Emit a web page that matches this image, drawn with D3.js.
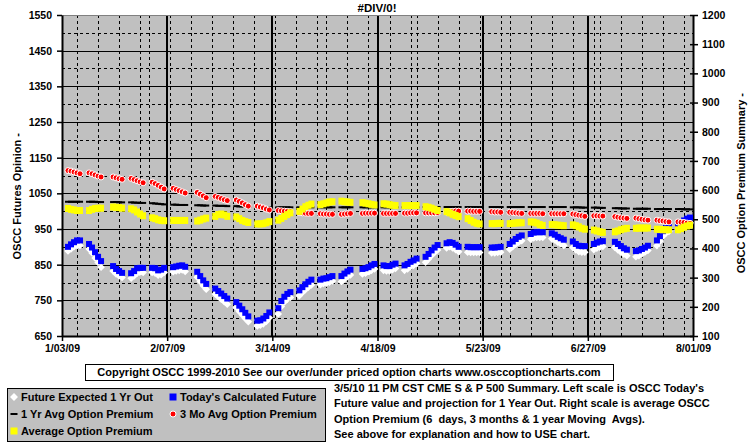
<!DOCTYPE html>
<html><head><meta charset="utf-8">
<script src="https://cdn.jsdelivr.net/npm/d3@7/dist/d3.min.js"></script>
<style>
html,body{margin:0;padding:0;background:#fff;}
svg text{font-family:"Liberation Sans",Arial,sans-serif;font-weight:bold;fill:#000;white-space:pre;}
</style></head>
<body>
<svg id="chart" width="755" height="446"></svg>
<script>
// ---------- DATA ----------
const chartTitle = "#DIV/0!";
const startDay = "2009-01-05", endDay = "2009-08-01";
const holidays = ["2009-01-19","2009-02-16","2009-04-10","2009-05-25","2009-07-03"];
const xTickDates = ["2009-01-03","2009-02-07","2009-03-14","2009-04-18","2009-05-23","2009-06-27","2009-08-01"];
const leftTicks = [650,750,850,950,1050,1150,1250,1350,1450,1550];
const rightTicks = [100,200,300,400,500,600,700,800,900,1000,1100,1200];

// Today's Calculated Future (left scale)
const todaysFuture = [
 900,907,913,918,918, 908,898,885,872,860, 846,838,832,827, 826,832,840,841,841, 841,840,834,836,841,
 843,845,847,848,844, 830,818,806,796, 783,776,769,762,755, 745,735,725,715,705, 693,694,699,706,716,
 728,748,760,768,773, 778,787,795,802,808, 808,811,812,815,818, 818,825,831,836, 838,840,843,848,852,
 848,846,846,850,853, 848,852,858,862,867, 872,880,890,898,905, 910,913,911,906,900, 900,899,899,899,899,
 898,898,899,900, 908,915,922,928,932, 936,940,941,941,941, 938,934,928,924,920, 915,908,903,902,902,
 908,912,915,916, 914,908,902,896,892, 888,890,894,898,903, 918,930,944,952,957, 962,968,974,979,982];
// Future Expected 1 Yr Out (left scale)
const expected1Yr = [
 888,894,900,904,904, 894,883,869,856,843, 832,824,818,814, 812,818,826,828,828, 828,826,820,822,828,
 830,832,834,835,831, 815,803,791,781, 768,760,753,746,739, 730,719,709,699,690, 678,680,684,691,701,
 712,733,745,753,758, 763,772,780,787,793, 794,797,798,801,804, 803,810,816,821, 824,826,829,834,838,
 834,832,832,836,839, 834,838,844,848,853, 857,866,876,884,891, 897,900,897,892,886, 885,884,884,884,884,
 883,883,884,885, 893,900,907,913,917, 921,925,926,926,926, 923,919,913,908,904, 898,891,886,885,885,
 892,896,899,901, 898,891,885,879,875, 872,875,880,885,890, 903,916,930,938,943, 948,954,960,965,968];
// 1 Yr Avg Option Premium (right scale)
const avg1Yr = [
 560,560,560,560,560, 560,560,560,559,559, 559,559,558,558, 558,557,557,556,556, 555,554,553,552,551,
 550,550,549,549,549, 548,548,547,547, 547,546,546,546,545, 545,544,544,543,543, 542,542,541,541,541,
 541,541,541,541,541, 541,541,541,541,541, 541,541,541,541,541, 541,541,541,541, 541,541,541,541,541,
 541,541,541,541,541, 541,541,541,541,541, 542,542,542,542,542, 542,542,542,542,542, 542,542,542,542,542,
 542,542,542,542, 542,542,542,542,542, 542,542,542,542,542, 542,542,542,542,542, 541,541,541,540,540,
 540,540,539,539, 538,538,537,537,537, 536,536,536,536,536, 535,535,535,535,535, 535,535,534,534,534];
// 3 Mo Avg Option Premium (right scale)
const avg3Mo = [
 667,665,662,659,656, 659,656,652,648,645, 645,642,639,637, 640,636,632,628,625, 627,622,616,610,604,
 606,602,598,594,590, 592,586,580,574, 578,575,571,567,564, 566,561,556,550,545, 545,542,539,535,532,
 530,529,528,527,526, 523,522,521,520,520, 519,518,518,517,517, 517,518,519,520, 520,521,521,521,521,
 520,520,520,520,520, 521,521,522,522,522, 522,522,522,522,523, 525,526,527,528,528, 528,528,527,527,527,
 526,525,525,524, 524,523,522,521,520, 520,520,520,520,519, 519,519,519,519,519, 518,516,514,512,510,
 512,512,511,511, 509,507,505,504,503, 504,502,500,498,497, 497,495,494,492,491, 491,490,489,487,486];
// Average Option Premium (right scale)
const avgPremium = [
 537,534,532,530,530, 530,534,537,538,538, 542,541,540,538, 536,532,525,518,512, 505,502,498,496,495,
 496,496,496,496,496, 494,497,501,504, 510,516,518,515,510, 508,502,496,492,489, 484,484,485,488,492,
 497,503,510,516,522, 527,535,543,548,552, 550,553,556,559,560, 562,560,559,558, 557,555,553,551,549,
 553,552,550,548,547, 547,547,547,547,547, 543,541,538,534,530, 526,522,517,513,509, 502,496,490,486,484,
 485,485,486,486, 485,486,487,488,488, 491,490,487,482,479, 482,481,480,479,478, 481,478,474,469,466,
 463,460,457,455, 457,460,464,467,469, 469,470,470,470,470, 466,465,464,464,464, 464,468,473,477,480];

const legendItems = [
 {label:"Future Expected 1 Yr Out", key:"white"},
 {label:"Today's Calculated Future", key:"blue"},
 {label:"1 Yr Avg Option Premium", key:"dash"},
 {label:"3 Mo Avg Option Premium", key:"red"},
 {label:"Average Option Premium", key:"yellow"}];
const copyrightText = "Copyright OSCC 1999-2010 See our over/under priced option charts www.osccoptioncharts.com";
const noteLines = ["3/5/10 11 PM CST CME S & P 500 Summary. Left scale is OSCC Today's",
 "Future value and projection for 1 Year Out. Right scale is average OSCC",
 "Option Premium (6  days, 3 months & 1 year Moving  Avgs).",
 "See above for explanation and how to USE chart."];
const leftAxisTitle = "OSCC Futures Opinion -";
const rightAxisTitle = "OSCC Option Premium Summary -";

// ---------- BUILD ----------
const fmtISO = d3.utcFormat("%Y-%m-%d");
const days = d3.utcDay.range(new Date(startDay+"T00:00:00Z"), new Date(endDay+"T00:00:00Z"))
  .filter(d => d.getUTCDay()!==0 && d.getUTCDay()!==6 && !holidays.includes(fmtISO(d)));
if (days.length !== todaysFuture.length) console.error("length mismatch", days.length, todaysFuture.length);

const svg = d3.select("#chart");
const L = 62, R = 693, T = 15, B = 336;
const x = d3.scaleUtc().domain([new Date("2009-01-03T00:00:00Z"), new Date("2009-08-01T00:00:00Z")]).range([L, R]);
const yL = d3.scaleLinear().domain([650,1550]).range([B, T]);
const yR = d3.scaleLinear().domain([100,1200]).range([B, T]);

svg.append("rect").attr("x",L).attr("y",T).attr("width",R-L).attr("height",B-T).attr("fill","#C0C0C0");

const grid = svg.append("g");
d3.range(700,1550,100).forEach(v=>{
  grid.append("line").attr("x1",L).attr("x2",R).attr("y1",Math.round(yL(v))+0.5).attr("y2",Math.round(yL(v))+0.5)
   .attr("stroke","#000").attr("stroke-width",1).attr("stroke-dasharray","3,3");
});
d3.utcDay.every(7).range(new Date("2009-01-03T00:00:00Z"), new Date("2009-08-01T00:00:00Z")).forEach(d=>{
  grid.append("line").attr("x1",Math.round(x(d))+0.5).attr("x2",Math.round(x(d))+0.5).attr("y1",T).attr("y2",B)
   .attr("stroke","#000").attr("stroke-width",1).attr("stroke-dasharray","3,3");
});
leftTicks.forEach(v=>{
  if (v===1550||v===650) return;
  grid.append("line").attr("x1",L).attr("x2",R).attr("y1",Math.round(yL(v))+0.5).attr("y2",Math.round(yL(v))+0.5)
   .attr("stroke","#000").attr("stroke-width",1);
});
xTickDates.slice(1,-1).forEach(s=>{
  const d = new Date(s+"T00:00:00Z");
  grid.append("line").attr("x1",Math.round(x(d))).attr("x2",Math.round(x(d))).attr("y1",T).attr("y2",B)
   .attr("stroke","#000").attr("stroke-width",2);
});
svg.append("line").attr("x1",L).attr("x2",R).attr("y1",T+0.5).attr("y2",T+0.5).attr("stroke","#808080");

const xAxis = d3.axisBottom(x).tickValues(xTickDates.map(s=>new Date(s+"T00:00:00Z"))).tickFormat(d3.utcFormat("%-m/%d/%y")).tickSizeInner(5).tickSizeOuter(0).tickPadding(4);
const gx = svg.append("g").attr("transform",`translate(0,${B})`).call(xAxis);
const gl = svg.append("g").attr("transform",`translate(${L},0)`).call(d3.axisLeft(yL).tickValues(leftTicks).tickFormat(d3.format("d")).tickSizeInner(5).tickSizeOuter(0).tickPadding(5));
const gr = svg.append("g").attr("transform",`translate(${R},0)`).call(d3.axisRight(yR).tickValues(rightTicks).tickFormat(d3.format("d")).tickSizeInner(5).tickSizeOuter(0).tickPadding(4));
[gx,gl,gr].forEach(g=>{
  g.select(".domain").attr("stroke","#000").attr("stroke-width",2);
  g.selectAll(".tick line").attr("stroke","#000").attr("stroke-width",1.5);
  g.selectAll("text").style("font-size","10.5px").style("font-weight","bold").attr("fill","#000");
});
gr.selectAll(".tick line").attr("x1",-3);

// ---------- SERIES ----------
const marks = svg.append("g");
const pts = (arr) => arr.map((v,i)=>({d:days[i], v}));
marks.append("g").selectAll("path").data(pts(expected1Yr)).join("path")
  .attr("d", d3.symbol(d3.symbolDiamond2, 36))
  .attr("transform", p=>`translate(${x(p.d)},${yL(p.v)})`).attr("fill","#fff");
marks.append("g").selectAll("rect").data(pts(todaysFuture)).join("rect")
  .attr("x",p=>x(p.d)-3).attr("y",p=>yL(p.v)-3).attr("width",6).attr("height",6).attr("fill","#0000FF");
marks.append("g").selectAll("rect").data(pts(avg1Yr)).join("rect")
  .attr("x",p=>x(p.d)-3).attr("y",p=>yR(p.v)-1).attr("width",6).attr("height",2).attr("fill","#000");
marks.append("g").selectAll("circle").data(pts(avg3Mo)).join("circle")
  .attr("cx",p=>x(p.d)).attr("cy",p=>yR(p.v)).attr("r",3).attr("fill","#FF0000").attr("stroke","#fff").attr("stroke-width",1);
marks.append("g").selectAll("rect").data(pts(avgPremium)).join("rect")
  .attr("x",p=>x(p.d)-3).attr("y",p=>yR(p.v)-3.5).attr("width",6).attr("height",7).attr("fill","#FFFF00");

// ---------- TEXT ----------
svg.append("text").attr("x",377).attr("y",12).attr("text-anchor","middle").style("font-size","11.5px").text(chartTitle);
svg.append("text").attr("transform","translate(21,133) rotate(-90)").attr("text-anchor","end").style("font-size","11px").text(leftAxisTitle);
svg.append("text").attr("transform","translate(745,93) rotate(-90)").attr("text-anchor","end").style("font-size","11px").text(rightAxisTitle);

svg.append("rect").attr("x",85.5).attr("y",364.5).attr("width",528).attr("height",16).attr("fill","#fff").attr("stroke","#000");
svg.append("text").attr("x",349).attr("y",376).attr("text-anchor","middle").style("font-size","11px").text(copyrightText);

const lg = svg.append("g");
lg.append("rect").attr("x",7.5).attr("y",388.5).attr("width",318).attr("height",53).attr("fill","#C0C0C0").attr("stroke","#000");
const legPos = [[14,397],[173,397],[14,414],[173,414],[14,431]];
legendItems.forEach((it,i)=>{
  const [mx,my] = legPos[i];
  if (it.key==="white") lg.append("path").attr("d",d3.symbol(d3.symbolDiamond2,40)).attr("transform",`translate(${mx},${my})`).attr("fill","#fff");
  if (it.key==="blue") lg.append("rect").attr("x",mx-3.5).attr("y",my-3.5).attr("width",7).attr("height",7).attr("fill","#0000FF");
  if (it.key==="dash") lg.append("rect").attr("x",mx-3.5).attr("y",my-1).attr("width",7).attr("height",2).attr("fill","#000");
  if (it.key==="red") lg.append("circle").attr("cx",mx).attr("cy",my).attr("r",3).attr("fill","#FF0000").attr("stroke","#fff");
  if (it.key==="yellow") lg.append("rect").attr("x",mx-3.5).attr("y",my-3.5).attr("width",7).attr("height",7).attr("fill","#FFFF00");
  lg.append("text").attr("x",mx+7).attr("y",my+4).style("font-size","11px").text(it.label);
});

noteLines.forEach((t,i)=>{
  svg.append("text").attr("x",334).attr("y",392+i*15.3).style("font-size","11px").text(t);
});
</script>
</body></html>
